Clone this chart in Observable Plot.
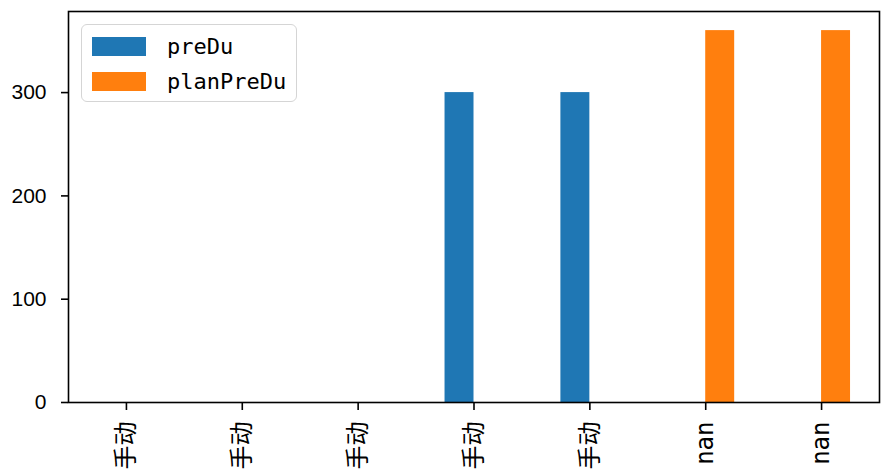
<!DOCTYPE html>
<html>
<head>
<meta charset="utf-8">
<script src="https://cdn.jsdelivr.net/npm/d3@7"></script>
<script src="https://cdn.jsdelivr.net/npm/@observablehq/plot@0.6"></script>
<style>
  html, body { margin: 0; padding: 0; background: #fff; }
  #wrap { position: relative; width: 881px; height: 476px; }
  #wrap svg { display: block; }
  .xlab text { font-family: "DejaVu Sans Mono", "Noto Sans CJK SC", sans-serif; }
  .ylab text { font-family: "Liberation Sans", Arial, sans-serif; }
  #legend {
    position: absolute; left: 81px; top: 24px; width: 214px; height: 76px;
    border: 1.6px solid #d5d5d5; border-radius: 6px; background: rgba(255,255,255,0.8);
    font-family: "DejaVu Sans Mono", "Noto Sans CJK SC", monospace; font-size: 22px; color: #000;
  }
  .item { position: absolute; left: 10px; height: 20px; display: flex; align-items: center; }
  .sw { width: 54px; height: 19px; margin-right: 21px; }
</style>
</head>
<body>
<div id="wrap"></div>
<script>
const categories = ["手动", "手动", "手动", "手动", "手动", "nan", "nan"];
const preDu = [0, 0, 0, 300, 300, 0, 0];
const planPreDu = [0, 0, 0, 0, 0, 360, 360];
const seriesNames = ["preDu", "planPreDu"];
const seriesColors = ["#1f77b4", "#ff7f0e"];
const yTicks = [0, 100, 200, 300];

const data = categories.map((c, i) => ({i, c, preDu: preDu[i], planPreDu: planPreDu[i]}));

const chart = Plot.plot({
  width: 881, height: 476,
  marginLeft: 68, marginRight: 2, marginTop: 11, marginBottom: 74,
  x: {domain: [-0.5, 6.5]},
  y: {domain: [0, 378.5]},
  marks: [
    Plot.rectY(data, {x1: d => d.i - 0.25, x2: d => d.i, y1: 0, y2: "preDu", fill: seriesColors[0]}),
    Plot.rectY(data, {x1: d => d.i, x2: d => d.i + 0.25, y1: 0, y2: "planPreDu", fill: seriesColors[1]}),
    Plot.axisX(data.map(d => d.i), {tickFormat: i => categories[i], tickRotate: -90, tickSize: 8, tickPadding: 11,
      fontSize: 24, strokeWidth: 1.6, label: null, className: "xlab", fill: "black", stroke: "black"}),
    Plot.axisY(yTicks, {tickSize: 7, tickPadding: 15, fontSize: 21, strokeWidth: 1.6, label: null, className: "ylab", fill: "black", stroke: "black"}),
    Plot.frame({stroke: "black", strokeWidth: 1.6})
  ]
});
document.getElementById("wrap").appendChild(chart);

const legend = document.createElement("div");
legend.id = "legend";
seriesNames.forEach((name, k) => {
  const it = document.createElement("div");
  it.className = "item";
  it.style.top = (k === 0 ? 11 : 46) + "px";
  const sw = document.createElement("div");
  sw.className = "sw";
  sw.style.background = seriesColors[k];
  const t = document.createElement("span");
  t.textContent = name;
  it.appendChild(sw); it.appendChild(t);
  legend.appendChild(it);
});
document.getElementById("wrap").appendChild(legend);
</script>
</body>
</html>
